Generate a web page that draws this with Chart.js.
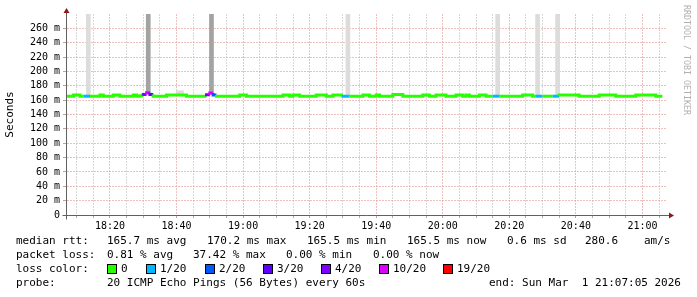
<!DOCTYPE html>
<html>
<head>
<meta charset="UTF-8">
<title>SmokePing median rtt</title>
<script src="https://cdn.jsdelivr.net/npm/chart.js@4"></script>
<style>
  body { margin: 0; background: #fff; }
  #wrap { position: relative; width: 697px; height: 297px; }
  #wrap canvas { position: absolute; left: 0; top: 0; }
  .t { position: absolute; font-family: "DejaVu Sans Mono", monospace; font-size: 11px; line-height: 14px; white-space: pre; color: #000; }
  .sw { position: absolute; width: 8px; height: 8px; border: 1px solid #000; }
  #mark { position: absolute; left: 682px; top: 5px; writing-mode: vertical-rl; font-family: "DejaVu Sans Mono", monospace; font-size: 8.3px; line-height: 9px; color: #b0b0b0; white-space: pre; }
</style>
</head>
<body>
<div id="wrap">
  <canvas id="chart" width="697" height="297"></canvas>
  <div id="mark">RRDTOOL / TOBI OETIKER</div>
  <!-- legend rows -->
  <span class="t" style="left:16px;top:234px">median rtt:</span>
  <span class="t" style="left:107px;top:234px">165.7 ms avg</span>
  <span class="t" style="left:207px;top:234px">170.2 ms max</span>
  <span class="t" style="left:307px;top:234px">165.5 ms min</span>
  <span class="t" style="left:407px;top:234px">165.5 ms now</span>
  <span class="t" style="left:507px;top:234px">0.6 ms sd</span>
  <span class="t" style="left:585px;top:234px">280.6</span>
  <span class="t" style="left:644px;top:234px">am/s</span>

  <span class="t" style="left:16px;top:248px">packet loss:</span>
  <span class="t" style="left:107px;top:248px">0.81 % avg</span>
  <span class="t" style="left:193px;top:248px">37.42 % max</span>
  <span class="t" style="left:286px;top:248px">0.00 % min</span>
  <span class="t" style="left:373px;top:248px">0.00 % now</span>

  <span class="t" style="left:16px;top:262px">loss color:</span>
  <div id="swatches"></div>

  <span class="t" style="left:16px;top:276px">probe:</span>
  <span class="t" style="left:107px;top:276px">20 ICMP Echo Pings (56 Bytes) every 60s</span>
  <span class="t" style="right:16px;top:276px">end: Sun Mar  1 21:07:05 2026</span>
</div>
<script>
// minutes after 18:00, graph covers 18:07:05 - 21:07:05
var START = 7 + 5 / 60;
var END = 187 + 5 / 60;
var FIRST_MINUTE = 7;   // medianRtt[0] is the minute ending 18:07

// median rtt in ms, one value per minute (18:07 ... 21:06)
var medianRtt = [
  165.5, 165.5, 165.5, 167.0, 167.0, 165.5, 165.5, 165.5, 165.5, 165.5,
  165.5, 167.0, 165.5, 165.5, 165.5, 167.0, 167.0, 165.5, 165.5, 165.5,
  165.5, 167.0, 165.5, 166.0, 168.0, 170.2, 168.0, 165.5, 165.5, 165.5,
  165.5, 167.0, 167.0, 167.0, 167.0, 167.0, 167.0, 165.5, 165.5, 165.5,
  165.5, 165.5, 165.5, 167.5, 169.8, 167.0, 165.5, 165.5, 165.5, 165.5,
  165.5, 165.5, 165.5, 167.0, 167.0, 165.5, 165.5, 165.5, 165.5, 165.5,
  165.5, 165.5, 165.5, 165.5, 165.5, 165.5, 167.0, 167.0, 165.5, 167.0,
  167.0, 165.5, 165.5, 165.5, 165.5, 165.5, 167.0, 167.0, 167.0, 165.5,
  165.5, 167.0, 167.0, 167.0, 165.5, 165.5, 165.5, 165.5, 165.5, 165.5,
  167.0, 167.0, 165.5, 165.5, 167.0, 165.5, 165.5, 165.5, 165.5, 168.0,
  168.0, 168.0, 165.5, 165.5, 165.5, 165.5, 165.5, 165.5, 167.0, 167.0,
  165.5, 165.5, 167.0, 167.0, 167.0, 165.5, 165.5, 165.5, 167.0, 167.0,
  165.5, 167.0, 165.5, 165.5, 165.5, 167.0, 167.0, 165.5, 165.5, 165.5,
  165.5, 165.5, 165.5, 165.5, 165.5, 165.5, 165.5, 165.5, 167.0, 167.0,
  167.0, 165.5, 165.5, 165.5, 165.5, 165.5, 165.5, 165.5, 165.5, 167.0,
  167.0, 167.0, 167.0, 167.0, 167.0, 165.5, 165.5, 165.5, 165.5, 165.5,
  165.5, 167.0, 167.0, 167.0, 167.0, 167.0, 165.5, 165.5, 165.5, 165.5,
  165.5, 165.5, 167.0, 167.0, 167.0, 167.0, 167.0, 167.0, 165.5, 165.5
];

// lost pings (out of 20) for the same minutes
var lostPings = [
  0, 0, 0, 0, 0, 0, 1, 1, 0, 0,
  0, 0, 0, 0, 0, 0, 0, 0, 0, 0,
  0, 0, 0, 0, 4, 10, 3, 0, 0, 0,
  0, 0, 0, 0, 0, 0, 0, 0, 0, 0,
  0, 0, 0, 4, 10, 2, 0, 0, 0, 0,
  0, 0, 0, 0, 0, 0, 0, 0, 0, 0,
  0, 0, 0, 0, 0, 0, 0, 0, 0, 0,
  0, 0, 0, 0, 0, 0, 0, 0, 0, 0,
  0, 0, 0, 0, 1, 1, 0, 0, 0, 0,
  0, 0, 0, 0, 0, 0, 0, 0, 0, 0,
  0, 0, 0, 0, 0, 0, 0, 0, 0, 0,
  0, 0, 0, 0, 0, 0, 0, 0, 0, 0,
  0, 0, 0, 0, 0, 0, 0, 0, 0, 1,
  1, 0, 0, 0, 0, 0, 0, 0, 0, 0,
  0, 0, 1, 1, 0, 0, 0, 1, 1, 0,
  0, 0, 0, 0, 0, 0, 0, 0, 0, 0,
  0, 0, 0, 0, 0, 0, 0, 0, 0, 0,
  0, 0, 0, 0, 0, 0, 0, 0, 0, 0
];

// smoke (spread of the 20 pings) where it stands out
var smokeMinute = [14, 32, 41, 42, 51, 92, 137, 149, 155];
var smokeTop    = [300, 300, 173, 173, 300, 300, 300, 300, 300];
var smokeDark   = [false, true, false, false, true, false, false, false, false];

// loss colour legend
var lossLabels = ['0', '1/20', '2/20', '3/20', '4/20', '10/20', '19/20'];
var lossLimits = [0, 1, 2, 3, 4, 10, 19];
var lossColors = ['#26ff00', '#00b8ff', '#0059ff', '#5e00ff', '#7e00ff', '#dd00ff', '#ff0000'];

var yTicks = [];
for (var v = 0; v <= 270; v += 10) yTicks.push(v);
var xTicks = [];
for (var m = 10; m <= 185; m += 5) xTicks.push(m);

function colorFor(lost) {
  var c = lossColors[0];
  for (var i = 0; i < lossLimits.length; i++) {
    if (lost >= lossLimits[i]) c = lossColors[i];
  }
  return c;
}

// legend swatches
var swLeft = [107, 146, 205, 263, 321, 379, 443];
var swBox = document.getElementById('swatches');
lossLabels.forEach(function (lab, i) {
  var s = document.createElement('div');
  s.className = 'sw';
  s.style.left = swLeft[i] + 'px';
  s.style.top = '264px';
  s.style.background = lossColors[i];
  swBox.appendChild(s);
  var t = document.createElement('span');
  t.className = 't';
  t.style.left = (swLeft[i] + 14) + 'px';
  t.style.top = '262px';
  t.textContent = lab;
  swBox.appendChild(t);
});

var linePoints = medianRtt.map(function (y, i) { return { x: FIRST_MINUTE + i, y: y }; });
var smokeBars = smokeMinute.map(function (m, i) {
  return { x: m - 0.5, y: [medianRtt[m - FIRST_MINUTE], smokeTop[i]] };
});

var pink = 'rgba(225,150,150,0.6)';
var grey = 'rgba(200,200,200,0.7)';

function gridColor(c) {
  var v = c.tick ? c.tick.value : 0;
  return v % 20 === 0 ? pink : grey;
}

// axis lines with arrow heads, like rrdtool
var axisArrows = {
  id: 'axisArrows',
  afterDraw: function (chart) {
    var ctx = chart.ctx, a = chart.chartArea;
    var x0 = Math.round(a.left) - 0.5, y0 = Math.round(a.bottom) + 0.5;
    ctx.save();
    ctx.strokeStyle = '#606060';
    ctx.lineWidth = 1;
    ctx.beginPath();
    ctx.moveTo(x0, y0 + 4); ctx.lineTo(x0, 11);
    ctx.moveTo(x0 - 4, y0); ctx.lineTo(a.right + 5, y0);
    ctx.stroke();
    ctx.fillStyle = '#8b1a1a';
    ctx.beginPath();
    ctx.moveTo(x0 - 3, 13); ctx.lineTo(x0 + 3, 13); ctx.lineTo(x0, 8); ctx.closePath();
    ctx.fill();
    ctx.beginPath();
    ctx.moveTo(a.right + 3, y0 - 3); ctx.lineTo(a.right + 3, y0 + 3); ctx.lineTo(a.right + 8, y0); ctx.closePath();
    ctx.fill();
    ctx.restore();
  }
};

new Chart(document.getElementById('chart'), {
  type: 'bar',
  data: {
    datasets: [{
      type: 'line',
      data: linePoints,
      order: 0,
      stepped: 'after',
      borderWidth: 3,
      pointRadius: 0,
      borderColor: lossColors[0],
      segment: {
        borderColor: function (ctx) { return colorFor(lostPings[ctx.p1DataIndex]); }
      }
    }, {
      type: 'bar',
      data: smokeBars,
      order: 1,
      barThickness: 4,
      backgroundColor: smokeDark.map(function (d) { return d ? '#a3a3a3' : '#dcdcdc'; })
    }]
  },
  options: {
    responsive: false,
    animation: false,
    layout: { padding: { left: 0, top: 14, right: 31, bottom: 62 } },
    plugins: { legend: { display: false }, tooltip: { enabled: false } },
    scales: {
      x: {
        type: 'linear',
        offset: false,
        min: START,
        max: END,
        afterBuildTicks: function (s) { s.ticks = xTicks.map(function (v) { return { value: v }; }); },
        afterFit: function (s) { s.height = 20; },
        grid: {
          offset: false,
          color: gridColor,
          tickColor: '#aaa',
          tickLength: 3
        },
        border: { display: false, dash: [2, 1] },
        ticks: {
          autoSkip: false,
          maxRotation: 0,
          padding: 2,
          color: '#000',
          font: { family: 'DejaVu Sans Mono', size: 10 },
          callback: function (v) {
            if (v % 20 !== 0) return '';
            var h = 18 + Math.floor(v / 60), mm = v % 60;
            return h + ':' + (mm < 10 ? '0' : '') + mm;
          }
        }
      },
      y: {
        min: 0,
        max: 280,
        afterBuildTicks: function (s) { s.ticks = yTicks.map(function (v) { return { value: v }; }); },
        afterFit: function (s) { s.width = 67; },
        grid: {
          color: gridColor,
          tickColor: '#aaa',
          tickLength: 4
        },
        border: { display: false, dash: [2, 1] },
        title: {
          display: true,
          text: 'Seconds',
          color: '#000',
          padding: { top: 4, bottom: 0 },
          font: { family: 'DejaVu Sans Mono', size: 11 }
        },
        ticks: {
          padding: 3,
          color: '#000',
          font: { family: 'DejaVu Sans Mono', size: 10 },
          callback: function (v) {
            if (v % 20 !== 0) return '';
            return v === 0 ? '0' : v + ' m';
          }
        }
      }
    }
  },
  plugins: [axisArrows]
});
</script>
</body>
</html>
